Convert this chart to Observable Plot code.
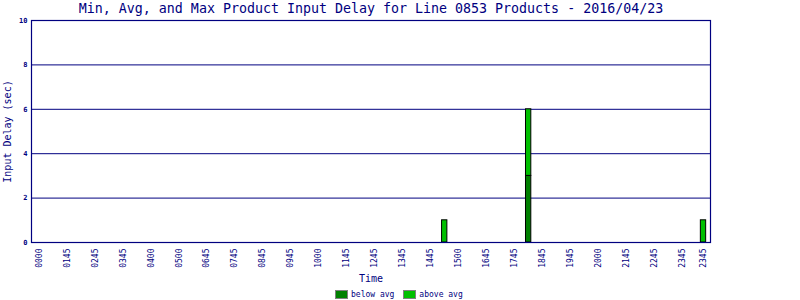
<!DOCTYPE html>
<html>
<head>
<meta charset="utf-8">
<script src="https://cdn.jsdelivr.net/npm/d3@7"></script>
<script src="https://cdn.jsdelivr.net/npm/@observablehq/plot@0.6"></script>
<style>
  html, body { margin: 0; padding: 0; background: #fff; }
  #wrap { position: relative; width: 800px; height: 300px; font-family: "DejaVu Sans Mono", monospace; color: #000080; }
  #legend { position: absolute; top: 290px; left: 335px; display: flex; align-items: center; font-size: 8px; }
  .sw { display: inline-block; width: 11px; height: 7px; border: 1px solid #808080; margin-right: 3px; }
  .item { display: flex; align-items: center; margin-right: 9px; }
</style>
</head>
<body>
<div id="wrap"></div>
<script>
const titleText = "Min, Avg, and Max Product Input Delay for Line 0853 Products - 2016/04/23";
const xLabel = "Time";
const yLabel = "Input Delay (sec)";
const seriesNames = ["below avg", "above avg"];
const seriesColors = ["#008000", "#00c000"];
// bar times (hours of day)
const barTimes = [14.5, 17.5, 23.75];
const belowAvg = [0, 3, 0];
const aboveAvg = [1, 3, 1];
// x tick positions (hours) and labels
const tickHours = [0, 1, 2, 3, 4, 5, 6, 7, 8, 9, 10, 11, 12, 13, 14, 15, 16, 17, 18, 19, 20, 21, 22, 23, 23.75];
const tickLabels = ["0000","0145","0245","0345","0400","0500","0645","0745","0845","0945","1000","1145","1245","1345","1445","1500","1645","1745","1845","1945","2000","2145","2245","2345","2345"];
const yTicks = [0, 2, 4, 6, 8, 10];

const navy = "#000080";
const halfW = 0.095;

const rows = [];
barTimes.forEach((t, i) => {
  if (belowAvg[i] > 0) rows.push({t, value: belowAvg[i], series: seriesNames[0]});
  if (aboveAvg[i] > 0) rows.push({t, value: aboveAvg[i], series: seriesNames[1]});
});

const chart = Plot.plot({
  width: 800,
  height: 300,
  marginLeft: 31,
  marginRight: 90,
  marginTop: 20,
  marginBottom: 58,
  style: {fontFamily: "DejaVu Sans Mono, monospace", color: navy, background: "white"},
  x: {domain: [-0.27, 24]},
  y: {domain: [0, 10]},
  color: {domain: seriesNames, range: seriesColors},
  marks: [
    Plot.gridY(yTicks.slice(1, -1), {stroke: navy, strokeOpacity: 1}),
    Plot.rectY(rows, {
      x1: d => d.t - halfW,
      x2: d => d.t + halfW,
      y: "value",
      fill: "series",
      stroke: "black",
      strokeWidth: 1
    }),
    Plot.frame({stroke: navy, strokeWidth: 1.2}),
    Plot.axisY({ticks: yTicks, tickSize: 0, tickPadding: 4, label: null, fontSize: 7, fontWeight: "bold", fill: navy}),
    Plot.axisX({ticks: tickHours, tickFormat: (d, i) => tickLabels[i], tickSize: 0, tickPadding: 6, tickRotate: -90, label: null, fontSize: 8, fill: navy}),
    Plot.text([titleText], {frameAnchor: "top", dy: -17, fontSize: 13.3, fill: navy}),
    Plot.text([xLabel], {frameAnchor: "bottom", dy: 39, fontSize: 10, fill: navy}),
    Plot.text([yLabel], {frameAnchor: "left", textAnchor: "middle", dx: -24, rotate: -90, fontSize: 10, fill: navy})
  ]
});

const wrap = document.getElementById("wrap");
wrap.appendChild(chart);
const legend = document.createElement("div");
legend.id = "legend";
seriesNames.forEach((name, i) => {
  const item = document.createElement("span");
  item.className = "item";
  const sw = document.createElement("span");
  sw.className = "sw";
  sw.style.background = seriesColors[i];
  item.appendChild(sw);
  item.appendChild(document.createTextNode(name));
  legend.appendChild(item);
});
wrap.appendChild(legend);
</script>
</body>
</html>
